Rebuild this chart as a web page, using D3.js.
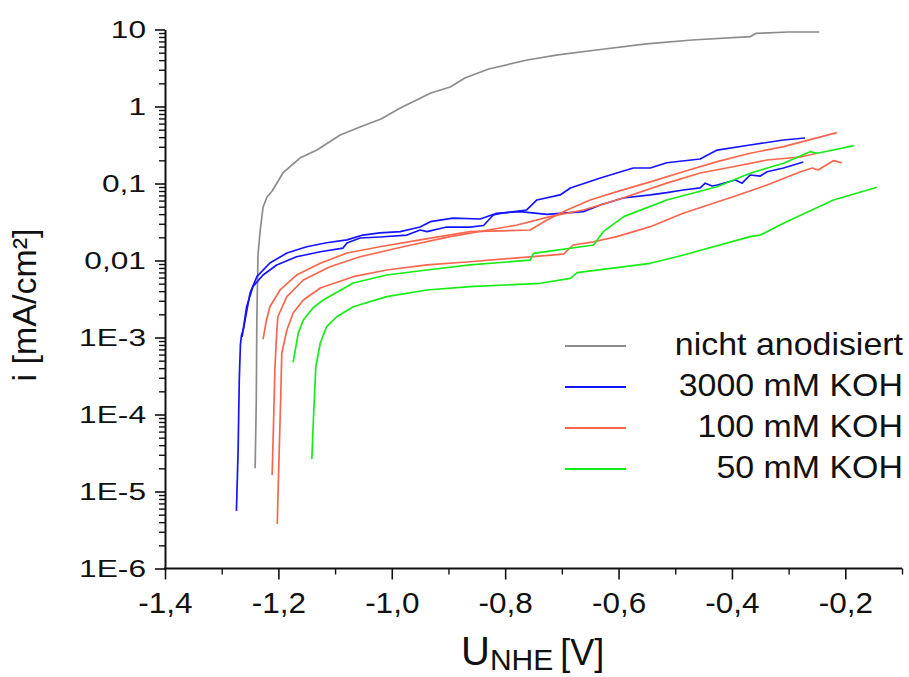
<!DOCTYPE html>
<html>
<head>
<meta charset="utf-8">
<script src="https://cdn.jsdelivr.net/npm/d3@7"></script>
<style>
  html, body { margin: 0; padding: 0; background: #fff; }
  svg { display: block; font-family: "Liberation Sans", Arial, sans-serif; }
</style>
</head>
<body>
<svg id="chart" width="909" height="677"></svg>
<script>
// Polarisation curves: potential U (V vs. NHE) and current density i (mA/cm²)

const grayCurve = [
  [-1.241, 2.0e-5], [-1.239, 1.5e-4], [-1.238, 1.7e-3], [-1.236, 0.0118], [-1.232, 0.0249],
  [-1.227, 0.0495], [-1.220, 0.0668], [-1.211, 0.080], [-1.192, 0.137], [-1.162, 0.214],
  [-1.132, 0.272], [-1.091, 0.426], [-1.056, 0.542], [-1.019, 0.689], [-0.985, 0.956],
  [-0.931, 1.50], [-0.897, 1.79], [-0.871, 2.34], [-0.829, 3.07], [-0.761, 4.02],
  [-0.707, 4.67], [-0.639, 5.42], [-0.551, 6.49], [-0.470, 7.31], [-0.368, 8.06],
  [-0.357, 8.93], [-0.300, 9.28], [-0.246, 9.28]
];

const blueCurveA = [
  [-1.274, 5.6e-6], [-1.271, 3.5e-5], [-1.269, 2.8e-4], [-1.267, 8.0e-4], [-1.265, 1.08e-3],
  [-1.262, 1.25e-3], [-1.250, 3.78e-3], [-1.238, 6.16e-3], [-1.215, 9.28e-3], [-1.185, 0.0125],
  [-1.150, 0.0151], [-1.115, 0.0170], [-1.079, 0.0185], [-1.051, 0.0214], [-1.021, 0.0228],
  [-0.985, 0.0237], [-0.950, 0.0272], [-0.932, 0.0319], [-0.892, 0.0356], [-0.844, 0.0346],
  [-0.815, 0.0410], [-0.774, 0.0431], [-0.726, 0.0398], [-0.662, 0.0431], [-0.632, 0.0526],
  [-0.592, 0.0648], [-0.544, 0.0710], [-0.515, 0.0760], [-0.486, 0.0824], [-0.456, 0.0875],
  [-0.447, 0.101], [-0.435, 0.0928], [-0.426, 0.0957], [-0.394, 0.111], [-0.382, 0.101],
  [-0.368, 0.129], [-0.350, 0.125], [-0.338, 0.142], [-0.309, 0.159], [-0.274, 0.190]
];

const blueCurveB = [
  [-1.264, 1.02e-3], [-1.256, 2.51e-3], [-1.245, 4.57e-3], [-1.227, 6.48e-3], [-1.203, 8.75e-3],
  [-1.168, 0.0112], [-1.126, 0.0130], [-1.086, 0.0145], [-1.079, 0.0169], [-1.056, 0.0196],
  [-1.021, 0.0202], [-0.973, 0.0214], [-0.950, 0.0249], [-0.938, 0.0237], [-0.903, 0.0272],
  [-0.862, 0.0272], [-0.838, 0.0285], [-0.821, 0.0390], [-0.804, 0.0414], [-0.762, 0.0453],
  [-0.744, 0.0611], [-0.703, 0.0710], [-0.685, 0.0874], [-0.632, 0.118], [-0.574, 0.159],
  [-0.544, 0.159], [-0.515, 0.186], [-0.456, 0.208], [-0.426, 0.272], [-0.368, 0.316],
  [-0.309, 0.367], [-0.271, 0.390]
];

const redCurveA = [
  [-1.227, 9.5e-4], [-1.221, 1.69e-3], [-1.215, 2.51e-3], [-1.197, 4.14e-3], [-1.168, 6.48e-3],
  [-1.126, 9.20e-3], [-1.079, 0.0125], [-1.021, 0.0151], [-0.950, 0.0185], [-0.862, 0.0237],
  [-0.756, 0.0249], [-0.726, 0.0336], [-0.691, 0.0453], [-0.650, 0.0611], [-0.603, 0.0783],
  [-0.544, 0.105], [-0.486, 0.142], [-0.426, 0.192], [-0.368, 0.247], [-0.309, 0.301],
  [-0.215, 0.457]
];

const redCurveB = [
  [-1.211, 1.64e-5], [-1.209, 5.75e-5], [-1.206, 4.18e-4], [-1.203, 1.14e-3], [-1.201, 1.86e-3],
  [-1.185, 3.39e-3], [-1.156, 5.58e-3], [-1.109, 8.31e-3], [-1.056, 0.0112], [-0.980, 0.0151],
  [-0.897, 0.0204], [-0.779, 0.0289], [-0.721, 0.0371], [-0.662, 0.0453], [-0.603, 0.0611],
  [-0.515, 0.101], [-0.456, 0.137], [-0.398, 0.165], [-0.338, 0.202], [-0.279, 0.221],
  [-0.250, 0.247]
];

const redCurveC = [
  [-1.202, 3.8e-6], [-1.199, 2.57e-5], [-1.196, 1.54e-4], [-1.194, 6.24e-4], [-1.185, 1.25e-3],
  [-1.174, 2.08e-3], [-1.156, 3.07e-3], [-1.126, 4.40e-3], [-1.068, 6.16e-3], [-1.009, 7.53e-3],
  [-0.938, 8.75e-3], [-0.862, 9.64e-3], [-0.697, 0.0121], [-0.680, 0.0159], [-0.644, 0.0175],
  [-0.603, 0.0204], [-0.544, 0.0275], [-0.486, 0.0410], [-0.398, 0.0674], [-0.338, 0.0957],
  [-0.279, 0.142], [-0.258, 0.159], [-0.248, 0.150], [-0.221, 0.198], [-0.206, 0.186]
];

const greenCurveA = [
  [-1.174, 4.76e-4], [-1.165, 1.13e-3], [-1.156, 1.69e-3], [-1.139, 2.42e-3], [-1.121, 3.07e-3],
  [-1.068, 5.10e-3], [-1.009, 6.48e-3], [-0.938, 7.53e-3], [-0.862, 8.75e-3], [-0.756, 0.0101],
  [-0.750, 0.0124], [-0.644, 0.0159], [-0.627, 0.0237], [-0.591, 0.0371], [-0.515, 0.0611],
  [-0.426, 0.0908], [-0.368, 0.136], [-0.309, 0.183], [-0.262, 0.259], [-0.250, 0.247],
  [-0.221, 0.272], [-0.185, 0.310]
];

const greenCurveB = [
  [-1.141, 2.64e-5], [-1.138, 9.36e-5], [-1.134, 4.18e-4], [-1.126, 8.49e-4], [-1.115, 1.38e-3],
  [-1.097, 1.86e-3], [-1.068, 2.51e-3], [-1.009, 3.39e-3], [-0.938, 4.14e-3], [-0.862, 4.57e-3],
  [-0.738, 5.06e-3], [-0.685, 5.87e-3], [-0.673, 6.95e-3], [-0.544, 9.20e-3], [-0.485, 0.0118],
  [-0.368, 0.0204], [-0.350, 0.0214], [-0.309, 0.0304], [-0.221, 0.0611], [-0.144, 0.0893]
];

const seriesNames = ["nicht anodisiert", "3000 mM KOH", "100 mM KOH", "50 mM KOH"];
const seriesColors = ["#8c8c8c", "#1414ff", "#f8664e", "#16ec16"];
const seriesCurves = [
  [grayCurve],
  [blueCurveA, blueCurveB],
  [redCurveA, redCurveB, redCurveC],
  [greenCurveA, greenCurveB]
];

const xDomain = [-1.4, -0.1];
const xTickValues = [-1.4, -1.2, -1.0, -0.8, -0.6, -0.4, -0.2];
const xTickLabels = ["-1,4", "-1,2", "-1,0", "-0,8", "-0,6", "-0,4", "-0,2"];
const xMinorTickValues = [-1.3, -1.1, -0.9, -0.7, -0.5, -0.3, -0.1];

const yDomain = [1e-6, 10];
const yTickValues = [1e-6, 1e-5, 1e-4, 1e-3, 1e-2, 1e-1, 1, 10];
const yTickLabels = ["1E-6", "1E-5", "1E-4", "1E-3", "0,01", "0,1", "1", "10"];

const svg = d3.select("#chart");

const x = d3.scaleLinear().domain(xDomain).range([165, 902]);
const y = d3.scaleLog().domain(yDomain).range([568.5, 29.5]);

// minor log ticks: 2..9 within every decade
const yMinorTickValues = [];
yTickValues.slice(0, -1).forEach(d => {
  for (let k = 2; k <= 9; k++) yMinorTickValues.push(d * k);
});

// ---- data lines
const line = d3.line().x(d => x(d[0])).y(d => y(d[1]));
const plot = svg.append("g");
seriesCurves.forEach((curves, si) => {
  curves.forEach(c => {
    plot.append("path")
      .datum(c)
      .attr("d", line)
      .attr("fill", "none")
      .attr("stroke", seriesColors[si])
      .attr("stroke-width", 1.7)
      .attr("stroke-linejoin", "round");
  });
});

// ---- axes
const axisColor = "#111";

// y minor ticks
svg.append("g")
  .attr("transform", `translate(${x(xDomain[0])},0)`)
  .call(d3.axisLeft(y).tickValues(yMinorTickValues).tickSize(6).tickSizeOuter(0).tickFormat(""))
  .call(g => g.select(".domain").remove())
  .call(g => g.selectAll(".tick line").attr("stroke", axisColor).attr("stroke-width", 1.4));

// y major ticks + labels
svg.append("g")
  .attr("transform", `translate(${x(xDomain[0])},0)`)
  .call(d3.axisLeft(y).tickValues(yTickValues).tickSize(10).tickSizeOuter(0)
    .tickFormat((d, i) => yTickLabels[i]))
  .call(g => g.select(".domain").attr("stroke", axisColor).attr("stroke-width", 2))
  .call(g => g.selectAll(".tick line").attr("stroke", axisColor).attr("stroke-width", 1.6))
  .call(g => g.selectAll(".tick text")
    .attr("x", -14.4)
    .attr("transform", "scale(1.32,1)")
    .attr("fill", "#111")
    .attr("font-size", 24)
    .attr("font-family", "Liberation Sans, Arial, sans-serif"));

// x minor ticks
svg.append("g")
  .attr("transform", `translate(0,${y(yDomain[0])})`)
  .call(d3.axisBottom(x).tickValues(xMinorTickValues).tickSize(6).tickSizeOuter(0).tickFormat(""))
  .call(g => g.select(".domain").remove())
  .call(g => g.selectAll(".tick line").attr("stroke", axisColor).attr("stroke-width", 1.4));

// x major ticks + labels
svg.append("g")
  .attr("transform", `translate(0,${y(yDomain[0])})`)
  .call(d3.axisBottom(x).tickValues(xTickValues).tickSize(11).tickSizeOuter(0)
    .tickFormat((d, i) => xTickLabels[i]))
  .call(g => g.select(".domain").attr("stroke", axisColor).attr("stroke-width", 2)
    .attr("d", `M${x(xDomain[0]) - 1},0H${x(xDomain[1])}`))
  .call(g => g.selectAll(".tick line").attr("stroke", axisColor).attr("stroke-width", 1.6))
  .call(g => g.selectAll(".tick text")
    .attr("y", 23.5)
    .attr("transform", "scale(1.05,1)")
    .attr("fill", "#111")
    .attr("font-size", 30)
    .attr("font-family", "Liberation Sans, Arial, sans-serif"));

// ---- axis titles
svg.append("text")
  .attr("transform", "translate(36,305) rotate(-90)")
  .attr("text-anchor", "middle")
  .attr("font-size", 34)
  .attr("fill", "#111")
  .text("i [mA/cm²]");

const xTitle = svg.append("text")
  .attr("x", 461)
  .attr("y", 665)
  .attr("fill", "#111");
xTitle.append("tspan").attr("font-size", 40).text("U");
xTitle.append("tspan").attr("font-size", 30).attr("dy", 5).text("NHE");
xTitle.append("tspan").attr("font-size", 36).attr("dy", -5).attr("dx", 7).text("[V]");

// ---- legend
const legend = svg.append("g");
seriesNames.forEach((name, i) => {
  const ly = 346 + i * 41;
  legend.append("line")
    .attr("x1", 565).attr("x2", 626)
    .attr("y1", ly).attr("y2", ly)
    .attr("stroke", seriesColors[i])
    .attr("stroke-width", 1.8);
  legend.append("text")
    .attr("transform", `translate(903,${ly + 9}) scale(1.06,1)`)
    .attr("text-anchor", "end")
    .attr("font-size", 32)
    .attr("fill", "#111")
    .text(name);
});
</script>
</body>
</html>
